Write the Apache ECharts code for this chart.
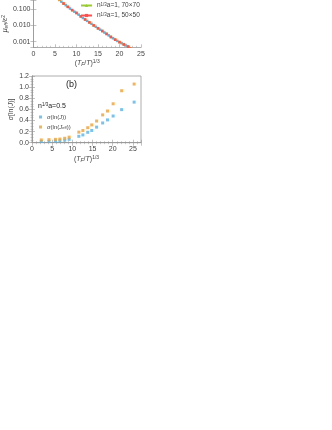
<!DOCTYPE html>
<html><head><meta charset="utf-8">
<script src="https://cdn.jsdelivr.net/npm/echarts@6/dist/echarts.min.js"></script>
<style>html,body{margin:0;padding:0;background:#fff}#c{width:332px;height:430px}</style>
</head><body><div id="c"></div>
<script>
// ---- Panel (a): effective quantity vs (T_F/T)^(1/3), log scale ----
const aX = [5,6,7,8,9,10,11,12,13,14,15,16,17,18,19,20,21,22,23];
const aGreen = [0.60,0.36,0.22,0.135,0.085,0.0575,0.0355,0.0229,0.0151,0.0100,0.0066,0.0045,0.0030,0.0019,0.00132,0.00093,0.00068,0.00050,0.00038];
const aRed   = [0.61,0.365,0.215,0.133,0.086,0.0570,0.0350,0.0226,0.0150,0.0098,0.0065,0.0044,0.0029,0.0019,0.00130,0.00092,0.00066,0.00049,0.00037];
const aOrange= [0.59,0.355,0.222,0.137,0.084,0.0580,0.0360,0.0232,0.0153,0.0101,0.0067,0.0046,0.0031,0.0020,0.00135,0.00095,0.00070,0.00052,0.00039];
const aXBlue = [6.5,7.5,8.5,9.5,10.5,11.5,12.5,13.5,14.5,15.5,16.5,17.5,18.5,19.5,20.5,21.5,22.5];
const aBlue  = [0.28,0.17,0.107,0.069,0.045,0.028,0.0186,0.0123,0.0081,0.0054,0.0036,0.0024,0.0016,0.0011,0.00079,0.00058,0.00044];
const aNames = ['g70','r50'];
// ---- Panel (b): sigma vs (T_F/T)^(1/3) ----
const bX = [2.3,4.2,5.8,6.9,8.1,9.2,11.6,12.6,13.8,14.8,16.0,17.5,18.7,20.1,22.2,25.3];
const bSigJ    = [0.022,0.025,0.030,0.036,0.045,0.060,0.115,0.140,0.187,0.220,0.280,0.355,0.410,0.480,0.595,0.730];
const bSigJeff = [0.050,0.055,0.060,0.065,0.080,0.100,0.190,0.220,0.270,0.320,0.390,0.500,0.570,0.700,0.935,1.055];

const pairs = (xs, ys, f) => xs.map((x, i) => [x, f ? f(ys[i]) : ys[i]]);
const lg = v => Math.log10(v);

const C_BLUE = '#56b4e9', C_ORANGE = '#f0a030', C_GREEN = '#9acd32', C_RED = '#ff5050';
const axisCol = '#999';
const lblCol = '#444';
const FF = 'Liberation Sans, Arial, sans-serif';

const titleRich = {
  it: {fontStyle: 'italic', fontSize: 7, color: lblCol, fontFamily: FF},
  n: {fontSize: 7, color: lblCol, fontFamily: FF},
  sub: {fontSize: 5, color: lblCol, fontStyle: 'italic', fontFamily: FF, verticalAlign: 'bottom', padding: [3,0,0,0]},
  sup: {fontSize: 5, color: lblCol, fontFamily: FF, verticalAlign: 'top', padding: [0,0,3,0]}
};
const xTitle = '{n|(}{it|T}{sub|F}{n|/}{it|T}{n|)}{sup|1/3}';

function baseX(gi, max, top, hidden) {
  return {
    type: 'value', gridIndex: gi, min: 0, max: max, interval: 5, show: !hidden,
    position: top ? 'top' : 'bottom',
    name: top ? '' : xTitle, nameLocation: 'middle', nameGap: 12,
    nameTextStyle: {rich: titleRich},
    axisLine: {show: true, lineStyle: {color: axisCol, width: 0.8}},
    axisTick: {show: true, inside: true, length: 3, lineStyle: {color: axisCol, width: 0.6}},
    minorTick: {show: true, splitNumber: 5, length: 1.5, lineStyle: {color: axisCol, width: 0.5}},
    axisLabel: {show: !top, fontSize: 7, color: lblCol, margin: 3, fontFamily: FF,
      formatter: v => (Math.abs(v % 5) < 1e-9 ? String(v) : '')},
    splitLine: {show: false}
  };
}

const option = {
  animation: false,
  backgroundColor: '#fff',
  grid: [
    {left: 32, top: 0, width: 109, height: 47.3, show: false, containLabel: false},
    {left: 32, top: 76, width: 109, height: 66.7, show: true, borderColor: axisCol, borderWidth: 0.8, containLabel: false}
  ],
  xAxis: [baseX(0, 25, false), baseX(1, 27, false), baseX(0, 25, true, true), baseX(1, 27, true)],
  yAxis: [
    {
      type: 'value', gridIndex: 0, min: -3.35, max: -0.45, splitNumber: 3,
      name: '{it|μ}{sub|eff}{n|/}{it|ε}{sup|2}', nameLocation: 'middle', nameGap: 21, nameRotate: 90,
      nameTextStyle: {rich: titleRich},
      axisLine: {show: true, lineStyle: {color: axisCol, width: 0.8}},
      axisTick: {show: true, inside: true, length: 3, lineStyle: {color: axisCol, width: 0.6}},
      axisLabel: {fontSize: 7, color: lblCol, margin: 3, fontFamily: FF,
        formatter: v => (Math.abs(v - Math.round(v)) < 1e-6 ? Math.pow(10, Math.round(v)).toFixed(3) : '')},
      splitLine: {show: false}
    },
    {
      type: 'value', gridIndex: 1, min: 0, max: 1.2, interval: 0.2,
      name: '{it|σ}{n|[ln(}{it|J}{n|)]}', nameLocation: 'middle', nameGap: 17, nameRotate: 90,
      nameTextStyle: {rich: titleRich},
      axisLine: {show: true, lineStyle: {color: axisCol, width: 0.8}},
      axisTick: {show: true, inside: true, length: 3, lineStyle: {color: axisCol, width: 0.6}},
      minorTick: {show: true, splitNumber: 4, length: 1.5, lineStyle: {color: axisCol, width: 0.5}},
      axisLabel: {fontSize: 7, color: lblCol, margin: 3, fontFamily: FF, formatter: v => v.toFixed(1)},
      splitLine: {show: false}
    },
    {
      type: 'value', gridIndex: 0, min: -3.35, max: -0.45, splitNumber: 3, position: 'right',
      axisLine: {show: true, lineStyle: {color: axisCol, width: 0.8}},
      axisTick: {show: true, inside: true, length: 3, lineStyle: {color: axisCol, width: 0.6}},
      axisLabel: {show: false}, splitLine: {show: false}
    },
    {
      type: 'value', gridIndex: 1, min: 0, max: 1.2, interval: 0.2, position: 'right',
      axisLine: {show: true, lineStyle: {color: axisCol, width: 0.8}},
      axisTick: {show: true, inside: true, length: 3, lineStyle: {color: axisCol, width: 0.6}},
      minorTick: {show: true, splitNumber: 4, length: 1.5, lineStyle: {color: axisCol, width: 0.5}},
      axisLabel: {show: false}, splitLine: {show: false}
    }
  ],
  legend: [
    {
      data: aNames, orient: 'vertical', left: 80, top: 2, itemGap: 3,
      itemWidth: 11, itemHeight: 4, padding: 0,
      textStyle: {fontSize: 6.5, color: lblCol, fontFamily: FF,
        rich: {sup: {fontSize: 4.5, color: lblCol, verticalAlign: 'top', padding: [0,0,2,0]}, n: {fontSize: 6.5, color: lblCol}}},
      formatter: name => name === 'g70' ? '{n|n}{sup|1/3}{n|a=1, 70×70}' : '{n|n}{sup|1/3}{n|a=1, 50×50}'
    },
    {
      data: ['sJ', 'sJeff'], orient: 'vertical', left: 39, top: 114, itemGap: 4,
      itemWidth: 3, itemHeight: 3, padding: 0, icon: 'rect',
      textStyle: {fontSize: 6, color: lblCol, fontFamily: FF,
        rich: {n: {fontSize: 6, color: lblCol}, it: {fontSize: 6, fontStyle: 'italic', color: lblCol},
               sub: {fontSize: 4, color: lblCol, verticalAlign: 'bottom', padding: [2,0,0,0]}}},
      formatter: name => name === 'sJ' ? '{it|σ}{n|(ln(}{it|J}{n|))}' : '{it|σ}{n|(ln(}{it|J}{sub|eff}{n|))}'
    }
  ],
  graphic: [
    {type: 'text', left: 66, top: 80, style: {text: '(b)', fontSize: 9, fill: '#222', fontFamily: FF}},
    {type: 'text', left: 38, top: 102, style: {
      text: '{n|n}{sup|1/3}{n|a=0.5}',
      rich: {n: {fontSize: 7, fill: '#222', fontFamily: FF}, sup: {fontSize: 4.5, fill: '#222', verticalAlign: 'top', padding: [0,0,3,0]}}
    }}
  ],
  series: [
    {name: 'blue', type: 'line', xAxisIndex: 0, yAxisIndex: 0, data: pairs(aXBlue, aBlue, lg),
     symbol: 'rect', symbolSize: 2.5, lineStyle: {color: C_BLUE, width: 1}, itemStyle: {color: C_BLUE}, clip: true},
    {name: 'orange', type: 'line', xAxisIndex: 0, yAxisIndex: 0, data: pairs(aX, aOrange, lg),
     symbol: 'rect', symbolSize: 2.5, lineStyle: {color: C_ORANGE, width: 1}, itemStyle: {color: C_ORANGE}, clip: true},
    {name: 'g70', type: 'line', xAxisIndex: 0, yAxisIndex: 0, data: pairs(aX, aGreen, lg),
     symbol: 'triangle', symbolSize: 2.5, lineStyle: {color: C_GREEN, width: 1}, itemStyle: {color: C_GREEN}, clip: true},
    {name: 'r50', type: 'line', xAxisIndex: 0, yAxisIndex: 0, data: pairs(aX, aRed, lg),
     symbol: 'rect', symbolSize: 2.5, lineStyle: {color: C_RED, width: 1}, itemStyle: {color: C_RED}, clip: true},
    {name: 'sJ', type: 'scatter', xAxisIndex: 1, yAxisIndex: 1, data: pairs(bX, bSigJ),
     symbol: 'rect', symbolSize: 3, itemStyle: {color: C_BLUE}},
    {name: 'sJeff', type: 'scatter', xAxisIndex: 1, yAxisIndex: 1, data: pairs(bX, bSigJeff),
     symbol: 'rect', symbolSize: 3, itemStyle: {color: C_ORANGE}}
  ]
};
const chart = echarts.init(document.getElementById('c'), null, {renderer: 'canvas'});
chart.setOption(option);
</script></body></html>
